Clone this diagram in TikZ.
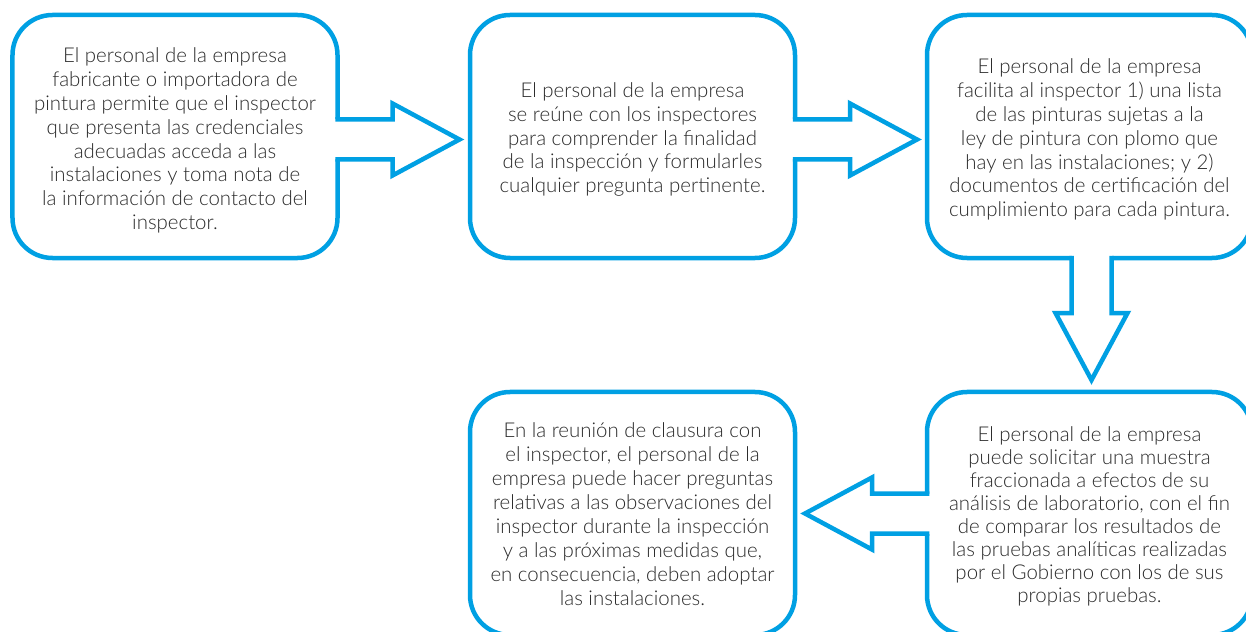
\documentclass[tikz,border=0pt]{standalone}
\usepackage{fontspec}
\setmainfont{Lato Light}
\usetikzlibrary{calc}
\definecolor{bblue}{HTML}{00A0E3}
\definecolor{btext}{HTML}{2B2B2B}
\tikzset{
  box/.style={draw=bblue, line width=4.5bp, rounded corners=40bp, minimum width=325bp, minimum height=243bp, inner sep=0pt, outer sep=0pt},
  txt/.style={align=center, text=btext, font=\fontsize{20.5}{24}\selectfont, inner sep=0pt},
  arr/.style={draw=bblue, line width=4.5bp, line join=miter, fill=white},
  blockarrow/.pic={
    \fill[white] (-3,-20) rectangle (3,20);
    \draw[arr] (-2.25,-20) -- (55,-20) -- (55,-36) -- (122,0) -- (55,36) -- (55,20) -- (-2.25,20);
  }
}
\begin{document}
\begin{tikzpicture}[x=1bp,y=-1bp]
\useasboundingbox[fill=white] (0,0) rectangle (1246,632);
\node[box] (b1) at (175,136.5) {};
\node[box] (b2) at (632.5,136.5) {};
\node[box] (b3) at (1089.5,136.5) {};
\node[box] (b4) at (1089.5,513.5) {};
\node[box] (b5) at (632.5,513.5) {};
\node[txt] (t1) at ($(b1.center)+(0,4)$) {El personal de la empresa\\fabricante o importadora de\\pintura permite que el inspector\\que presenta las credenciales\\adecuadas acceda a las\\instalaciones y toma nota de\\la información de contacto del\\inspector.};
\node[txt] (t2) at ($(b2.center)+(0,3)$) {El personal de la empresa\\se reúne con los inspectores\\para comprender la finalidad\\de la inspección y formularles\\cualquier pregunta pertinente.};
\node[txt] (t3) at ($(b3.center)+(0,3)$) {El personal de la empresa\\facilita al inspector 1) una lista\\de las pinturas sujetas a la\\ley de pintura con plomo que\\hay en las instalaciones; y 2)\\documentos de certificación del\\cumplimiento para cada pintura.};
\node[txt, font=\fontsize{20.5}{23}\selectfont] (t4) at ($(b4.center)+(0,3)$) {El personal de la empresa\\puede solicitar una muestra\\fraccionada a efectos de su\\análisis de laboratorio, con el fin\\de comparar los resultados de\\las pruebas analíticas realizadas\\por el Gobierno con los de sus\\propias pruebas.};
\node[txt] (t5) at ($(b5.center)+(0,0.5)$) {En la reunión de clausura con\\el inspector, el personal de la\\empresa puede hacer preguntas\\relativas a las observaciones del\\inspector durante la inspección\\y a las próximas medidas que,\\en consecuencia, deben adoptar\\las instalaciones.};
\pic at ($(b1.east)+(0,3)$) {blockarrow};
\pic at ($(b2.east)+(0,3)$) {blockarrow};
\pic[rotate=-90] at ($(b3.south)+(2,0)$) {blockarrow};
\pic[rotate=180] at ($(b4.west)+(0,0)$) {blockarrow};
\end{tikzpicture}
\end{document}
